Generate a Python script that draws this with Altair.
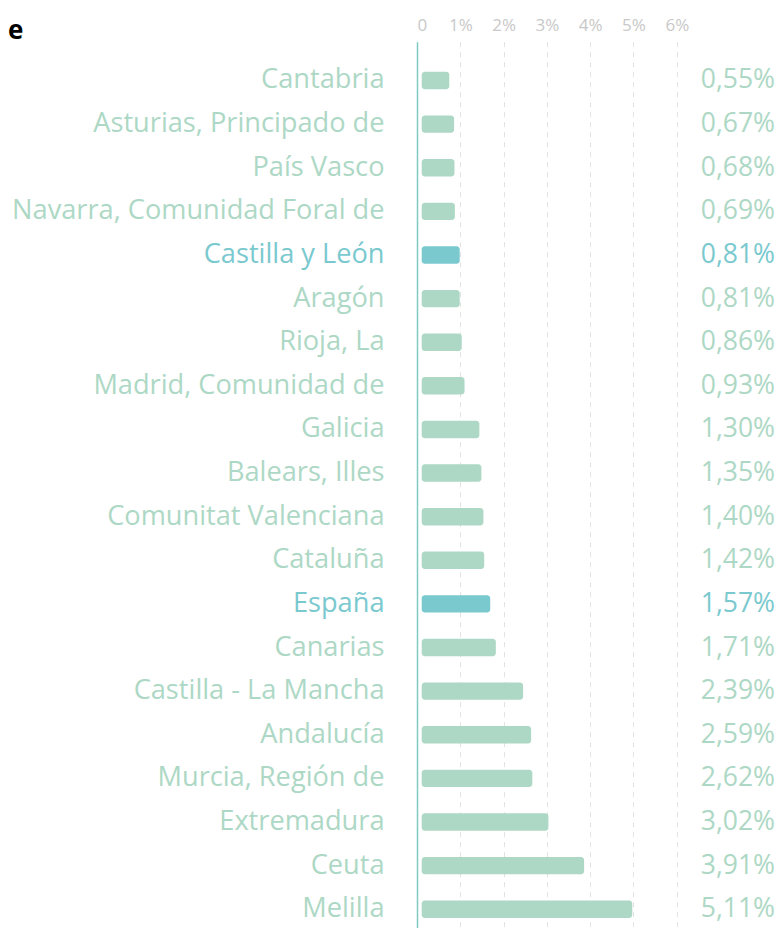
import altair as alt
import pandas as pd

regions = ["Cantabria", "Asturias, Principado de", "País Vasco", "Navarra, Comunidad Foral de",
           "Castilla y León", "Aragón", "Rioja, La", "Madrid, Comunidad de", "Galicia",
           "Balears, Illes", "Comunitat Valenciana", "Cataluña", "España", "Canarias",
           "Castilla - La Mancha", "Andalucía", "Murcia, Región de", "Extremadura", "Ceuta", "Melilla"]
values = [0.55, 0.67, 0.68, 0.69, 0.81, 0.81, 0.86, 0.93, 1.30, 1.35,
          1.40, 1.42, 1.57, 1.71, 2.39, 2.59, 2.62, 3.02, 3.91, 5.11]
highlighted = ["Castilla y León", "España"]
tick_values = [0, 1, 2, 3, 4, 5, 6]

df = pd.DataFrame({"region": regions, "value": values})
df["label"] = [f"{v:.2f}".replace(".", ",") + "%" for v in values]
df["hl"] = df["region"].isin(highlighted)

GREEN = "#add8c5"
TEAL = "#7ac9cf"
FONT = "Open Sans"
W, H = 358, 886.3
AX_MAX = 8.268
BAR_MAX = 8.921

color_enc = alt.condition(alt.datum.hl, alt.value(TEAL), alt.value(GREEN))
y_scale = alt.Scale(paddingInner=0.6, paddingOuter=0.4595, align=0.75, round=False)
y_enc = alt.Y("region:N", sort=regions, title=None, scale=y_scale,
              axis=alt.Axis(ticks=False, labelPadding=33, labelFontSize=27.2, labelFont=FONT,
                            labelColor=alt.ExprRef(expr="indexof(['Castilla y León','España'], datum.value) >= 0 ? '#7ac9cf' : '#add8c5'"),
                            domainColor="#7fcbc4", domainWidth=1.5, labelLimit=500))

axis_layer = alt.Chart(df).mark_text(align="right", baseline="middle", font=FONT, fontSize=26.5).encode(
    x=alt.X("value:Q", title=None, scale=alt.Scale(domain=[0, AX_MAX], nice=False),
            axis=alt.Axis(orient="top", values=tick_values, ticks=False, domain=False,
                          labelExpr="datum.value == 0 ? '0' : datum.value + '%'",
                          labelColor="#c8c8c8", labelFontSize=17, labelFont=FONT, labelPadding=7,
                          grid=True, gridDash=[5, 5], gridColor="#e2e2e2", gridWidth=1)),
    y=y_enc,
    text=alt.value(""),
)

bars = alt.Chart(df).mark_bar(cornerRadius=3, height=17.4, xOffset=10.2, x2Offset=4.7).encode(
    x=alt.X("value:Q", scale=alt.Scale(domain=[0, BAR_MAX], nice=False), axis=None),
    x2=alt.datum(0),
    y=alt.Y("region:N", sort=regions),
    color=color_enc,
)

labels = alt.Chart(df).mark_text(align="right", baseline="middle", font=FONT, fontSize=26.5).encode(
    x=alt.X("value:Q", scale=alt.Scale(domain=[0, AX_MAX], nice=False), axis=None),
    y=alt.Y("region:N", sort=regions),
    text="label:N",
    color=color_enc,
).transform_calculate(value=f"{AX_MAX}")

chart = alt.layer(axis_layer, bars, labels).resolve_scale(x="independent").properties(
    width=W, height=H,
    autosize=alt.AutoSizeParams(type="none"),
    padding={"left": 409, "top": 33.7, "right": 0, "bottom": 0},
    title=alt.TitleParams("e", anchor="start", frame="group", dx=-409, dy=27, fontSize=26,
                          fontWeight="bold", color="#000000", font=FONT, offset=0),
).configure_view(stroke=None)

chart.save("out.html", embed_options={"renderer": "svg", "actions": False})
